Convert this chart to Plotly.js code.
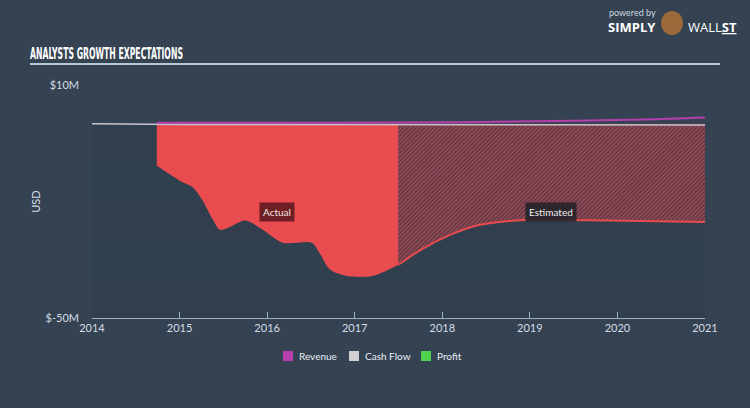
<!DOCTYPE html>
<html><head><meta charset="utf-8">
<script src="https://cdn.plot.ly/plotly-3.0.1.min.js"></script>
<style>html,body{margin:0;padding:0;background:#344252;}#chart{width:750px;height:408px;}</style>
</head><body><div id="chart"></div>
<script>
// Data (USD millions)
const actualYears = [2014.74, 2015.03, 2015.15, 2015.26, 2015.38, 2015.46, 2015.55, 2015.75, 2015.92, 2016.18, 2016.51, 2016.60, 2016.72, 2016.91, 2017.20, 2017.50];
const actualProfit = [-10.8, -15.0, -16.3, -19.6, -24.7, -27.3, -26.8, -24.9, -26.8, -30.6, -30.6, -33.3, -37.6, -39.2, -39.2, -36.3];
const estYears = [2017.50, 2017.75, 2018.09, 2018.43, 2018.77, 2019.00, 2019.90, 2021.00];
const estProfit = [-36.3, -32.5, -28.6, -26.0, -25.0, -24.7, -24.9, -25.3];
const revYears = [2014.74, 2016.0, 2017.5, 2018.5, 2019.5, 2020.3, 2021.0];
const revenue = [0.3, 0.3, 0.35, 0.5, 0.8, 1.1, 1.6];
const cfYears = [2014.0, 2015.0, 2016.0, 2017.0, 2018.0, 2019.0, 2020.0, 2021.0];
const cashFlow = [0.0, -0.2, -0.2, -0.2, -0.3, -0.3, -0.3, -0.3];
const xTicks = [2014, 2015, 2016, 2017, 2018, 2019, 2020, 2021];
const yTickVals = [-50, 10];
const yTickText = ['$-50M', '$10M'];
const legendNames = ['Revenue', 'Cash Flow', 'Profit'];
const legendColors = ['#b53fae', '#d0d0d0', '#4cd44c'];

const RED = '#e84c4f';
const traces = [
  {x: actualYears, y: actualProfit, type: 'scatter', mode: 'lines', line: {color: RED, width: 0, shape: 'spline', smoothing: 0.8},
   fill: 'tozeroy', fillcolor: RED, showlegend: false, hoverinfo: 'skip'},
  {x: estYears, y: estProfit, type: 'scatter', mode: 'lines', line: {color: RED, width: 2, shape: 'spline', smoothing: 0.8},
   fill: 'tozeroy', fillcolor: 'rgba(110,58,70,1)',
   fillpattern: {shape: '/', fgcolor: 'rgba(200,80,90,0.75)', bgcolor: 'rgba(90,60,72,1)', size: 3, solidity: 0.4},
   showlegend: false, hoverinfo: 'skip'},
  {x: cfYears, y: cashFlow, type: 'scatter', mode: 'lines', line: {color: '#c9c4cc', width: 1.5}, showlegend: false, hoverinfo: 'skip'},
  {x: revYears, y: revenue, type: 'scatter', mode: 'lines', line: {color: '#b53fae', width: 2, shape: 'spline'}, showlegend: false, hoverinfo: 'skip'}
];

const PW = 613, PH = 233;
const px = v => (v - 92) / PW;
const py = v => (318 - v) / PH;

const shapes = [];
[[0, -10, 0.10], [-10, -20, 0.06], [-20, -30, 0.10], [-30, -40, 0.06], [-40, -50, 0.10]].forEach(b => {
  shapes.push({type: 'rect', xref: 'x', yref: 'y', x0: 2014, x1: 2021, y0: b[0], y1: b[1],
    fillcolor: 'rgba(20,30,40,' + b[2] + ')', line: {width: 0}, layer: 'below'});
});
shapes.push({type: 'line', xref: 'paper', yref: 'paper', x0: px(30), x1: px(720), y0: py(64), y1: py(64),
  line: {color: '#b8c6d2', width: 2}});
// logo mark
shapes.push({type: 'circle', xref: 'paper', yref: 'paper', x0: px(661), x1: px(683), y0: py(35), y1: py(11),
  fillcolor: '#9a6a3a', line: {width: 0}});
// legend swatches
const swX = [283, 349, 421];
const txX = [297, 363, 435];
const annotations = [
  {x: 2016.11, y: -22.7, xref: 'x', yref: 'y', text: 'Actual', showarrow: false, bgcolor: '#6e1f24', font: {size: 10, color: '#f2e6e6'}, borderpad: 3},
  {x: 2019.24, y: -22.7, xref: 'x', yref: 'y', text: 'Estimated', showarrow: false, bgcolor: 'rgba(38,36,42,0.9)', font: {size: 10, color: '#eeeeee'}, borderpad: 3},
  {xref: 'paper', yref: 'paper', x: px(607), y: py(12), xanchor: 'left', yanchor: 'middle', text: 'powered by', showarrow: false, font: {size: 9, color: '#d0d8e0'}},
  {xref: 'paper', yref: 'paper', x: px(606), y: py(27), xanchor: 'left', yanchor: 'middle', text: '<b>SIMPLY</b>', showarrow: false, font: {size: 13, color: '#ffffff', family: '"Open Sans", sans-serif'}},
  {xref: 'paper', yref: 'paper', x: px(686), y: py(27), xanchor: 'left', yanchor: 'middle', text: 'WALL<b><u>ST</u></b>', showarrow: false, font: {size: 13, color: '#ffffff', family: '"Open Sans", sans-serif'}}
];
legendNames.forEach((n, i) => {
  shapes.push({type: 'rect', xref: 'paper', yref: 'paper', x0: px(swX[i]), x1: px(swX[i] + 10), y0: py(361), y1: py(351),
    fillcolor: legendColors[i], line: {width: 0}});
  annotations.push({xref: 'paper', yref: 'paper', x: px(txX[i]), y: py(356), xanchor: 'left', yanchor: 'middle', text: n,
    showarrow: false, font: {size: 10, color: '#e8edf2'}});
});

const layout = {
  width: 750, height: 408,
  paper_bgcolor: '#344252', plot_bgcolor: 'rgba(0,0,0,0)',
  margin: {l: 92, r: 45, t: 85, b: 90},
  showlegend: false,
  font: {family: 'Lato, "Open Sans", sans-serif', color: '#d6dde4', size: 11},
  title: {text: 'ANALYSTS GROWTH EXPECTATIONS', x: 30 / 750, xanchor: 'left', xref: 'container', yref: 'container', y: 1 - 54 / 408, yanchor: 'middle',
    font: {family: '"DejaVu Sans Condensed", "Liberation Sans Narrow", sans-serif', size: 12, color: '#ffffff', weight: 'bold'}},
  xaxis: {range: [2014, 2021], tickvals: xTicks, ticktext: xTicks.map(String), showgrid: false, zeroline: false,
    showline: true, linecolor: '#9fb0c0', linewidth: 1, ticks: 'inside', ticklen: 6, tickcolor: '#9fb0c0',
    tickfont: {size: 11, color: '#d6dde4'}, fixedrange: true},
  yaxis: {range: [-50, 10], tickvals: yTickVals, ticktext: yTickText, showgrid: false, zeroline: false, showline: false,
    ticks: '', ticklabelstandoff: 12, tickfont: {size: 11, color: '#d6dde4'},
    title: {text: 'USD', font: {size: 11, color: '#d6dde4'}, standoff: 2}, fixedrange: true},
  shapes: shapes,
  annotations: annotations
};
Plotly.newPlot('chart', traces, layout, {displayModeBar: false, staticPlot: true}).then(gd => {
  // condense the title horizontally to match the narrow display face
  const t = gd.querySelector('.gtitle');
  if (t) {
    const bb = t.getBBox();
    const target = 153;
    const sx = target / bb.width, sy = 1.25;
    const ox = bb.x, oy = bb.y + bb.height / 2;
    t.setAttribute('transform', `translate(${ox},${oy}) scale(${sx},${sy}) translate(${-ox},${-oy})`);
  }
});
</script></body></html>
